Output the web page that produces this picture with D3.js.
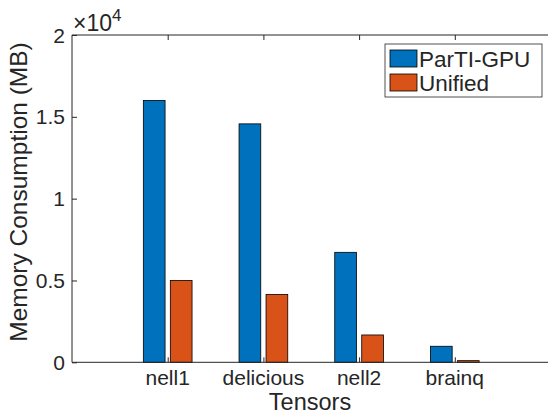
<!DOCTYPE html>
<html><head><meta charset="utf-8">
<script src="https://cdn.jsdelivr.net/npm/d3@7"></script>
<style>body{margin:0;background:#fff}svg{display:block}text{font-family:"Liberation Sans",Arial,Helvetica,sans-serif;fill:#262626}</style>
</head><body>
<svg id="c" width="548" height="416"></svg>
<script>
const categories = ["nell1", "delicious", "nell2", "brainq"];
const seriesNames = ["ParTI-GPU", "Unified"];
const partiGPU = [16000, 14570, 6720, 980];
const unified = [5000, 4150, 1670, 100];
const yTicks = [0, 5000, 10000, 15000, 20000];
const yTickLabels = ["0", "0.5", "1", "1.5", "2"];
const colors = ["#0072BD", "#D95319"];

const svg = d3.select("#c");
const L = 72, T = 35, B = 362.3, R = 550.5;
const x = d3.scaleLinear().domain([0, 5]).range([L, R]);
const y = d3.scaleLinear().domain([0, 20000]).range([B, T]);
const unit = x(1) - x(0);
const barW = 0.227 * unit, off = 0.141 * unit;
const series = [partiGPU, unified];
const axisCol = "#262626";

// bars
series.forEach((vals, si) => {
  svg.append("g").selectAll("rect").data(vals).join("rect")
    .attr("x", (d, i) => x(i + 1) + (si === 0 ? -off : off) - barW / 2)
    .attr("width", barW)
    .attr("y", d => y(d))
    .attr("height", d => y(0) - y(d))
    .attr("fill", colors[si])
    .attr("stroke", "#000")
    .attr("stroke-width", 0.8);
});

// axes box
const g = svg.append("g").attr("stroke", axisCol).attr("stroke-width", 1).attr("fill", "none");
g.append("line").attr("x1", L).attr("x2", R).attr("y1", B).attr("y2", B);
g.append("line").attr("x1", L).attr("x2", R).attr("y1", T).attr("y2", T);
g.append("line").attr("x1", L).attr("x2", L).attr("y1", T).attr("y2", B);
g.append("line").attr("x1", R).attr("x2", R).attr("y1", T).attr("y2", B);

// y axis ticks (inward)
const yAx = svg.append("g").attr("transform", `translate(${L},0)`)
  .call(d3.axisRight(y).tickValues(yTicks).tickSize(5).tickFormat(""));
yAx.select(".domain").remove();
yAx.selectAll("line").attr("stroke", axisCol);
svg.append("g").selectAll("text").data(yTicks).join("text")
  .attr("x", 65).attr("y", d => y(d)).attr("dy", "0.36em")
  .attr("text-anchor", "end").attr("font-size", 21)
  .text((d, i) => yTickLabels[i]);

// x axis ticks (inward, bottom and top)
const xt = categories.map((c, i) => i + 1);
const xAx = svg.append("g").attr("transform", `translate(0,${B})`)
  .call(d3.axisTop(x).tickValues(xt).tickSize(5).tickFormat(""));
xAx.select(".domain").remove();
xAx.selectAll("line").attr("stroke", axisCol);
const xAxT = svg.append("g").attr("transform", `translate(0,${T})`)
  .call(d3.axisBottom(x).tickValues(xt).tickSize(5).tickFormat(""));
xAxT.select(".domain").remove();
xAxT.selectAll("line").attr("stroke", axisCol);
svg.append("g").selectAll("text").data(categories).join("text")
  .attr("x", (d, i) => x(i + 1)).attr("y", 385)
  .attr("text-anchor", "middle").attr("font-size", 21)
  .text(d => d);

// exponent
const ex = svg.append("text").attr("x", 73).attr("y", 31).attr("font-size", 23);
ex.append("tspan").text("\u00d710");
ex.append("tspan").attr("font-size", 17).attr("dy", -10).text("4");

// axis labels
svg.append("text").attr("x", 310).attr("y", 410)
  .attr("text-anchor", "middle").attr("font-size", 23.5).text("Tensors");
svg.append("text").attr("transform", `translate(26.5,192) rotate(-90)`)
  .attr("text-anchor", "middle").attr("font-size", 24.5).text("Memory Consumption (MB)");

// legend
const lg = svg.append("g");
lg.append("rect").attr("x", 385).attr("y", 44).attr("width", 157).attr("height", 53)
  .attr("fill", "#fff").attr("stroke", axisCol).attr("stroke-width", 0.8);
seriesNames.forEach((n, i) => {
  const yy = 50 + i * 24;
  lg.append("rect").attr("x", 390).attr("y", yy).attr("width", 27).attr("height", 17)
    .attr("fill", colors[i]).attr("stroke", "#000").attr("stroke-width", 0.8);
  lg.append("text").attr("x", 419).attr("y", yy + 17).attr("font-size", 22.5).text(n);
});
</script>
</body></html>
